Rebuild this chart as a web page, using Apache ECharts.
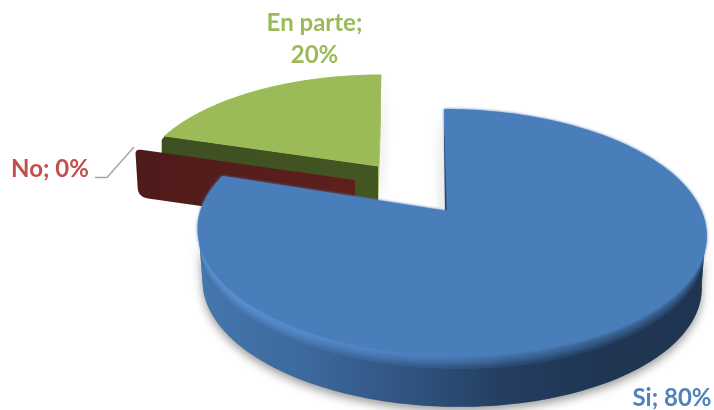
<!DOCTYPE html>
<html><head><meta charset="utf-8">
<style>html,body{margin:0;padding:0;background:#fff}#c{width:714px;height:410px}</style>
<script src="https://cdn.jsdelivr.net/npm/echarts@6/dist/echarts.min.js"></script>
</head><body><div id="c"></div>
<script>
const categories = ['Si', 'No', 'En parte'];
const values = [80, 0, 20];

const total = values.reduce((a, b) => a + b, 0);
const PERSP = 0.167;
const FONT = 'Lato, "Open Sans", sans-serif';
const looks = [
  { ax: 448, ay: 212, cx: 451, cy: 212, R: 250, A: 119, s: 7, depth: 52, z: 40, color: '#4a7ebb', text: '#4f81bd', label: [672, 398] },
  { ax: 355, ay: 180, cx: 355, cy: 180, R: 243, A: 105.5, s: 0, depth: 48, z: 20, color: '#5a1e1b', text: '#c0504d', label: [50, 169] },
  { ax: 378, ay: 166, cx: 378, cy: 167.8, R: 237, A: 108.3, s: -3.5, depth: 48, z: 1, color: '#9bbb59', text: '#9bbb59', label: [314.5, 23] }
];

function rim(g, deg, d) {
  const t = deg * Math.PI / 180, u = Math.sin(t), v = -Math.cos(t), q = 1 - PERSP * v;
  const f = 1 - 0.016 * d / g.depth;
  return [g.cx + (g.R * f * u + g.s * v) / q, g.cy + g.A * v / q + d];
}
function arc(g, a0, a1, d) {
  const pts = [], n = Math.max(2, Math.ceil(Math.abs(a1 - a0) / 1.5));
  for (let i = 0; i <= n; i++) pts.push(rim(g, a0 + (a1 - a0) * i / n, d));
  return pts;
}
function linear(stops) {
  return { type: 'linear', x: 0, y: 0, x2: 1, y2: 0, colorStops: stops };
}
function roundCorner(p0, c, p1, n) {
  const out = [];
  for (let i = 0; i <= n; i++) {
    const t = i / n, m = 1 - t;
    out.push([m * m * p0[0] + 2 * m * t * c[0] + t * t * p1[0], m * m * p0[1] + 2 * m * t * c[1] + t * t * p1[1]]);
  }
  return out;
}
function toward(a, b, r) {
  const dx = b[0] - a[0], dy = b[1] - a[1], l = Math.hypot(dx, dy);
  return [a[0] + dx / l * r, a[1] + dy / l * r];
}
function poly(points, style, z2) {
  return { type: 'polygon', shape: { points }, style, z2, silent: true };
}

function renderItem(params, api) {
  const i = params.dataIndex, value = api.value(0), g = looks[i];
  let before = 0;
  for (let k = 0; k < i; k++) before += values[k];
  const a0 = before / total * 360, a1 = (before + value) / total * 360;
  const kids = [];
  const z = g.z;
  const apex = [g.ax, g.ay], apexB = [g.ax, g.ay + g.depth];

  if (i === 0) {
    const top = arc(g, a0, a1, 0);
    // the silhouette of the disc runs between these two angles
    const from = 99.6, to = 260.4;
    const t0 = rim(g, a0, 0);
    kids.push(poly([apex, t0, [t0[0] - 1, t0[1] + 30], [g.ax - 3, g.ay + 2]], { fill: '#1f3552', shadowBlur: 8, shadowColor: 'rgba(0,0,0,0.28)', shadowOffsetX: -3 }, z));
    const side = arc(g, from, to, 0).concat(arc(g, from, to, g.depth).reverse());
    kids.push(poly(side, { fill: '#888', shadowBlur: 10, shadowColor: 'rgba(0,0,0,0.40)', shadowOffsetY: 4 }, z + 1));
    kids.push(poly(side, { fill: linear([
      { offset: 0, color: '#4576ad' }, { offset: 0.2, color: '#3d6a9f' }, { offset: 0.42, color: '#30537f' },
      { offset: 0.6, color: '#243e61' }, { offset: 0.8, color: '#1f3552' }, { offset: 1, color: '#1f3552' }]) }, z + 2));
    // soft rim between the wall and the face
    const rimFill = linear([
      { offset: 0, color: 'rgba(98,155,225,0.22)' }, { offset: 0.42, color: 'rgba(88,140,210,0.20)' },
      { offset: 0.62, color: 'rgba(74,126,187,0.22)' }, { offset: 1, color: 'rgba(74,126,187,0.16)' }]);
    [14, 11, 9, 7, 5, 4, 3, 2, 1].forEach((d, n) => {
      kids.push(poly(arc(g, from, to, 0).concat(arc(g, from, to, d).reverse()), { fill: rimFill }, z + 3 + n));
    });
    kids.push(poly([apex].concat(top), { fill: g.color, stroke: g.color, lineWidth: 2, lineJoin: 'round', shadowBlur: 3, shadowColor: 'rgba(74,126,187,0.9)' }, z + 14));
  } else if (i === 1) {
    // a zero-sized slice still shows its cut face
    const o = rim(g, a0, 0), ob = [o[0] + 3, o[1] + g.depth];
    const pts = [apex]
      .concat(roundCorner(toward(o, apex, 6), o, toward(o, ob, 5), 5))
      .concat(roundCorner(toward(ob, o, 9), ob, toward(ob, apexB, 10), 6))
      .concat([apexB]);
    kids.push(poly(pts, { fill: linear([{ offset: 0, color: '#4e1b1a' }, { offset: 1, color: '#5e201c' }]) }, z));
  } else {
    const top = arc(g, a0, a1, 0);
    kids.push(poly([apex, rim(g, a1, 0), rim(g, a1, g.depth), apexB], { fill: '#a9c76c', shadowBlur: 9, shadowColor: 'rgba(0,0,0,0.30)', shadowOffsetX: 3 }, z));
    const o = rim(g, a0, 0);
    const wall = [apex, o, [o[0] - 3, o[1] + 4], [o[0] - 3, o[1] + g.depth], apexB];
    kids.push(poly(wall, { fill: linear([{ offset: 0, color: '#3e4f21' }, { offset: 1, color: '#435622' }]) }, z + 1));
    kids.push(poly([apex].concat(top), { fill: g.color, stroke: g.color, lineWidth: 1, lineJoin: 'round' }, z + 2));
  }

  if (i === 1) {
    kids.push({ type: 'polyline', silent: true, z2: 60,
      shape: { points: [[95, 177.5], [107, 177.5], [134, 147]] },
      style: { fill: 'none', stroke: '#a6a6a6', lineWidth: 1.5 } });
  }
  const name = categories[i];
  const parts = i === 2 ? [name + ';', value + '%'] : [name + '; ' + value + '%'];
  parts.forEach((t, n) => {
    kids.push({ type: 'text', silent: true, z2: 70, x: g.label[0], y: g.label[1] + n * 32,
      style: { text: t, fill: g.text, font: 'bold 24px ' + FONT, align: 'center', verticalAlign: 'middle' } });
  });
  return { type: 'group', children: kids };
}

const chart = echarts.init(document.getElementById('c'), null, { width: 714, height: 410 });
chart.setOption({
  animation: false,
  backgroundColor: '#fff',
  series: [{
    type: 'custom',
    coordinateSystem: 'none',
    silent: true,
    clip: false,
    renderItem,
    data: values.map((v, i) => ({ name: categories[i], value: [v] }))
  }]
});
</script></body></html>
